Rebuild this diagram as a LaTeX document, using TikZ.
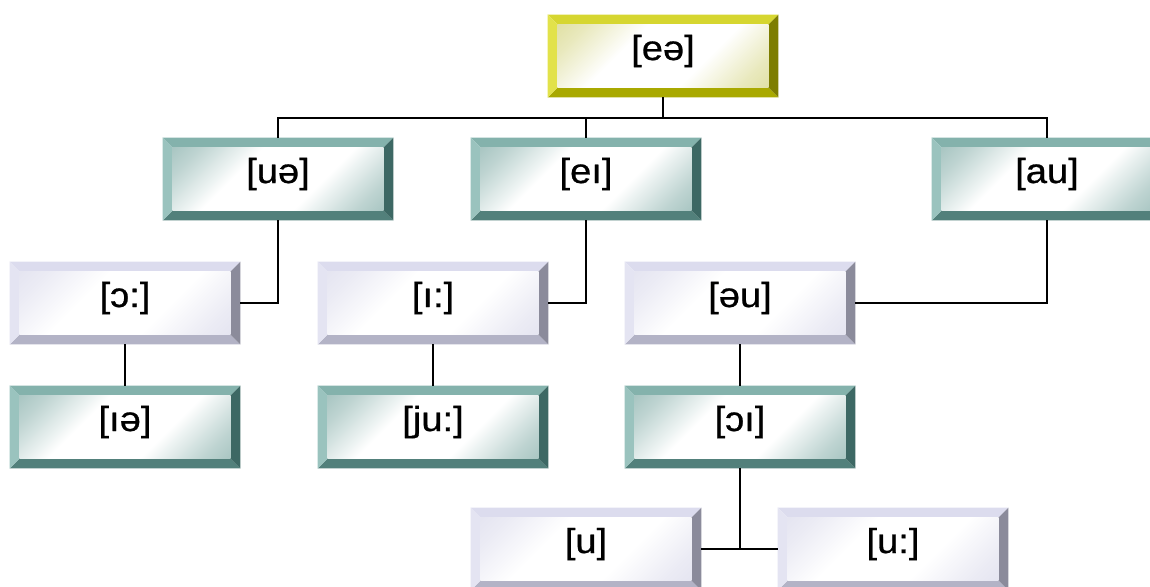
\documentclass[tikz,border=0pt]{standalone}
\usepackage{fontspec}
\setmainfont{Liberation Sans}[FakeStretch=1.1, FakeBold=0.8]
\usepackage{tikz}
\usetikzlibrary{calc, backgrounds, positioning}

\definecolor{tealt}{HTML}{84B2AC}
\definecolor{teall}{HTML}{9AC3BE}
\definecolor{tealr}{HTML}{3D6864}
\definecolor{tealb}{HTML}{52807B}
\definecolor{tealf}{HTML}{7FAAA5}
\definecolor{lavt}{HTML}{DCDCEE}
\definecolor{lavl}{HTML}{E4E4F2}
\definecolor{lavr}{HTML}{8B8B9B}
\definecolor{lavb}{HTML}{B3B3C6}
\definecolor{lavf}{HTML}{D8D8EA}
\definecolor{yelt}{HTML}{D6D630}
\definecolor{yell}{HTML}{E2E24A}
\definecolor{yelr}{HTML}{7D7D00}
\definecolor{yelb}{HTML}{A9A900}
\definecolor{yelf}{HTML}{D2D27A}

\pgfdeclareverticalshading{bandteal}{100bp}{color(0bp)=(tealf); color(22bp)=(tealf!50!white); color(38bp)=(white); color(62bp)=(white); color(78bp)=(tealf!50!white); color(100bp)=(tealf)}
\pgfdeclareverticalshading{bandlav}{100bp}{color(0bp)=(lavf); color(22bp)=(lavf!50!white); color(38bp)=(white); color(62bp)=(white); color(78bp)=(lavf!50!white); color(100bp)=(lavf)}
\pgfdeclareverticalshading{bandyel}{100bp}{color(0bp)=(yelf); color(22bp)=(yelf!50!white); color(38bp)=(white); color(62bp)=(white); color(78bp)=(yelf!50!white); color(100bp)=(yelf)}

\begin{document}
\begin{tikzpicture}[x=0.75pt,y=0.75pt,yscale=-1,xscale=1,
  keybox/.style={minimum width=172.5pt, minimum height=61.5pt, inner sep=0pt,
    font=\fontsize{26}{30}\selectfont, text height=19pt, text depth=13pt},
  link/.style={line width=1.2pt},
  teal-t/.style={fill=tealt}, teal-l/.style={fill=teall}, teal-r/.style={fill=tealr}, teal-b/.style={fill=tealb},
  teal-f/.style={shading=bandteal, shading angle=45},
  lav-t/.style={fill=lavt}, lav-l/.style={fill=lavl}, lav-r/.style={fill=lavr}, lav-b/.style={fill=lavb},
  lav-f/.style={shading=bandlav, shading angle=45},
  yel-t/.style={fill=yelt}, yel-l/.style={fill=yell}, yel-r/.style={fill=yelr}, yel-b/.style={fill=yelb},
  yel-f/.style={shading=bandyel, shading angle=45}]
\useasboundingbox (0,0) rectangle (1150,586);

% Text Node
\node [keybox] (top) at (663,56) {[eə]};
% Text Node
\node [keybox] (ue) at (278,179) {[uə]};
\node [keybox] (ei) at (586,179) {[eı]};
\node [keybox] (au) at (1047,179) {[au]};
% Text Node
\node [keybox] (oo) at (125,303) {[ɔ:]};
\node [keybox] (ii) at (433,303) {[ı:]};
\node [keybox] (eu) at (740,303) {[əu]};
% Text Node
\node [keybox] (ie) at (125,427) {[ıə]};
\node [keybox] (ju) at (433,427) {[ju:]};
\node [keybox] (oi) at (740,427) {[ɔı]};
% Text Node
\node [keybox] (u) at (586,549) {[u]};
\node [keybox] (uu) at (893,549) {[u:]};

%Shape: Bevel
\begin{scope}[on background layer]
\foreach \n/\c in {top/yel,ue/teal,ei/teal,au/teal,oo/lav,ii/lav,eu/lav,ie/teal,ju/teal,oi/teal,u/lav,uu/lav}{
  \fill [\c-t] (\n.north west) -- (\n.north east) -- ($(\n.north east)+(-10,10)$) -- ($(\n.north west)+(10,10)$) -- cycle ;
  \fill [\c-b] (\n.south west) -- (\n.south east) -- ($(\n.south east)+(-10,-10)$) -- ($(\n.south west)+(10,-10)$) -- cycle ;
  \fill [\c-l] (\n.north west) -- (\n.south west) -- ($(\n.south west)+(10,-10)$) -- ($(\n.north west)+(10,10)$) -- cycle ;
  \fill [\c-r] (\n.north east) -- (\n.south east) -- ($(\n.south east)+(-10,-10)$) -- ($(\n.north east)+(-10,10)$) -- cycle ;
  \shade [\c-f] ($(\n.north west)+(10,10)$) rectangle ($(\n.south east)+(-10,-10)$) ;
}
\end{scope}

%Straight Lines
\draw [link] (top.south) -- ++(0,21) coordinate (bus) -| (ue.north) ;
\draw [link] (bus) -| (ei.north) ;
\draw [link] (bus) -| (au.north) ;
%Straight Lines
\draw [link] (ue.south) |- (oo.east) ;
\draw [link] (ei.south) |- (ii.east) ;
\draw [link] (au.south) |- (eu.east) ;
%Straight Lines
\draw [link] (oo.south) -- (ie.north) ;
\draw [link] (ii.south) -- (ju.north) ;
\draw [link] (eu.south) -- (oi.north) ;
%Straight Lines
\draw [link] (oi.south) |- (u.east) ;
\draw [link] (oi.south) |- (uu.west) ;

\end{tikzpicture}
\end{document}
